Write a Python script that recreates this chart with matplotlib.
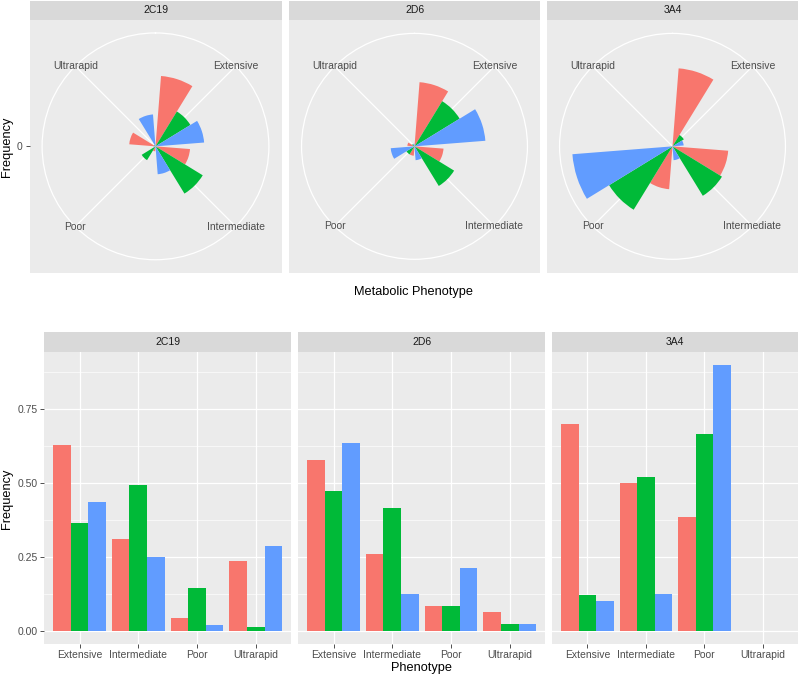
import numpy as np
import matplotlib
matplotlib.use("Agg")
import matplotlib.pyplot as plt

plt.rcParams["font.family"] = ["Liberation Sans", "DejaVu Sans"]

# ---- data (frequency per phenotype, three groups per enzyme) --------------
PHENOTYPES = ["Extensive", "Intermediate", "Poor", "Ultrarapid"]
ENZYMES = ["2C19", "2D6", "3A4"]

# each tuple: (red group, green group, blue group), values in PHENOTYPES order
FREQ_2C19 = ([0.628, 0.308, 0.044, 0.234],
             [0.364, 0.493, 0.144, 0.014],
             [0.434, 0.249, 0.018, 0.285])
FREQ_2D6 = ([0.575, 0.260, 0.084, 0.064],
            [0.473, 0.415, 0.084, 0.024],
            [0.635, 0.124, 0.213, 0.024])
FREQ_3A4 = ([0.699, 0.499, 0.384, 0.0],
            [0.119, 0.518, 0.664, 0.0],
            [0.100, 0.124, 0.897, 0.0])
FREQS = [FREQ_2C19, FREQ_2D6, FREQ_3A4]

# ---- style -----------------------------------------------------------------
COLORS = ["#F8766D", "#00BA38", "#619CFF"]
PANEL_BG = "#EBEBEB"
STRIP_BG = "#D9D9D9"
TXT = "#4D4D4D"
FS_TICK = 7.5
FS_TITLE = 9.2

W, H = 800, 677
fig = plt.figure(figsize=(W / 100, H / 100), dpi=100)


def rect(x0, y0, x1, y1):
    """pixel box (top-left origin) -> figure fraction rect"""
    return [x0 / W, 1 - y1 / H, (x1 - x0) / W, (y1 - y0) / H]


def strip(x0, y0, x1, y1, label):
    ax = fig.add_axes(rect(x0, y0, x1, y1))
    ax.set_facecolor(STRIP_BG)
    ax.set_xticks([])
    ax.set_yticks([])
    for s in ax.spines.values():
        s.set_visible(False)
    ax.text(0.5, 0.5, label, ha="center", va="center", fontsize=FS_TICK,
            color="#1A1A1A", transform=ax.transAxes)


vmax = max(max(max(g) for g in f) for f in FREQS)
n_cat = len(PHENOTYPES)
dodge = [-0.3, 0.0, 0.3]
bw = 0.3

# ---- top row: polar (coord_polar style) -------------------------------------
TOP_X = [(29.5, 281.5), (289, 540), (547, 798)]
TOP_Y = (20, 272.7)
r_top = vmax / 0.4 * 0.45
theta_c = (np.arange(n_cat) + 0.5) * 2 * np.pi / n_cat
unit = 2 * np.pi / n_cat

for i, (name, freq) in enumerate(zip(ENZYMES, FREQS)):
    x0, x1 = TOP_X[i]
    y0, y1 = TOP_Y
    strip(x0, 0.5, x1, y0, name)
    bg = fig.add_axes(rect(x0, y0, x1, y1))
    bg.set_facecolor(PANEL_BG)
    bg.set_xlim(-1, 1)
    bg.set_ylim(-1, 1)
    bg.set_xticks([])
    for s in bg.spines.values():
        s.set_visible(False)
    if i == 0:
        bg.set_yticks([0])
        bg.set_yticklabels(["0"])
        bg.tick_params(axis="y", length=3, width=0.6, color="#333333",
                       labelsize=FS_TICK, labelcolor=TXT, pad=2)
    else:
        bg.set_yticks([])

    cx, cy = (x0 + x1) / 2, (y0 + y1) / 2
    half = 0.45 * min(x1 - x0, y1 - y0)
    ax = fig.add_axes(rect(cx - half, cy - half, cx + half, cy + half),
                      projection="polar")
    ax.set_facecolor("none")
    ax.set_theta_zero_location("N")
    ax.set_theta_direction(-1)
    ax.set_ylim(0, r_top)
    ax.set_yticks([])
    ax.set_xticks(theta_c)
    ax.set_xticklabels([""] * n_cat)
    ax.xaxis.grid(True, color="white", lw=0.9)
    ax.spines["polar"].set_color("white")
    ax.spines["polar"].set_linewidth(0.9)
    ax.tick_params(axis="x", length=0)
    for g, vals in enumerate(freq):
        ax.bar(theta_c + dodge[g] * unit, vals, width=bw * unit, bottom=0,
               color=COLORS[g], linewidth=0, zorder=3)
    for t, lab in zip(theta_c, PHENOTYPES):
        ax.text(t, r_top, lab, ha="center", va="center", fontsize=FS_TICK,
                color=TXT, zorder=4)

fig.text(7.5 / W, 1 - 147 / H, "Frequency", rotation=90, ha="center",
         va="center", fontsize=FS_TITLE, color="black")
fig.text(414 / W, 1 - 292 / H, "Metabolic Phenotype", ha="center",
         va="center", fontsize=FS_TITLE, color="black")

# ---- bottom row: dodged bars ------------------------------------------------
BOT_X = [(44.3, 291), (298.3, 545), (552.3, 798)]
BOT_Y = (351.7, 644)
xpos = np.arange(1, n_cat + 1)
yticks = [0, 0.25, 0.5, 0.75]

for i, (name, freq) in enumerate(zip(ENZYMES, FREQS)):
    x0, x1 = BOT_X[i]
    y0, y1 = BOT_Y
    strip(x0, 332.3, x1, y0, name)
    ax = fig.add_axes(rect(x0, y0, x1, y1))
    ax.set_facecolor(PANEL_BG)
    for s in ax.spines.values():
        s.set_visible(False)
    ax.set_xlim(0.4, n_cat + 0.6)
    ax.set_ylim(-0.05 * vmax, 1.05 * vmax)
    ax.set_xticks(xpos)
    ax.set_xticklabels(PHENOTYPES)
    ax.set_yticks(yticks)
    ax.set_yticks([0.125, 0.375, 0.625, 0.875], minor=True)
    ax.grid(True, which="major", color="white", lw=0.9)
    ax.grid(True, which="minor", axis="y", color="white", lw=0.45)
    ax.set_axisbelow(True)
    ax.tick_params(which="minor", length=0)
    ax.tick_params(which="major", length=3, width=0.6, color="#333333",
                   labelsize=FS_TICK, labelcolor=TXT, pad=1.5)
    if i == 0:
        ax.set_yticklabels([f"{v:.2f}" for v in yticks])
    else:
        ax.tick_params(axis="y", length=0, labelleft=False)
    for g, vals in enumerate(freq):
        ax.bar(xpos + dodge[g], vals, width=bw, color=COLORS[g], linewidth=0)

fig.text(7.5 / W, 1 - 499 / H, "Frequency", rotation=90, ha="center",
         va="center", fontsize=FS_TITLE, color="black")
fig.text(421 / W, 1 - 668 / H, "Phenotype", ha="center", va="center",
         fontsize=FS_TITLE, color="black")

fig.savefig("out.png", dpi=100, facecolor="white")
